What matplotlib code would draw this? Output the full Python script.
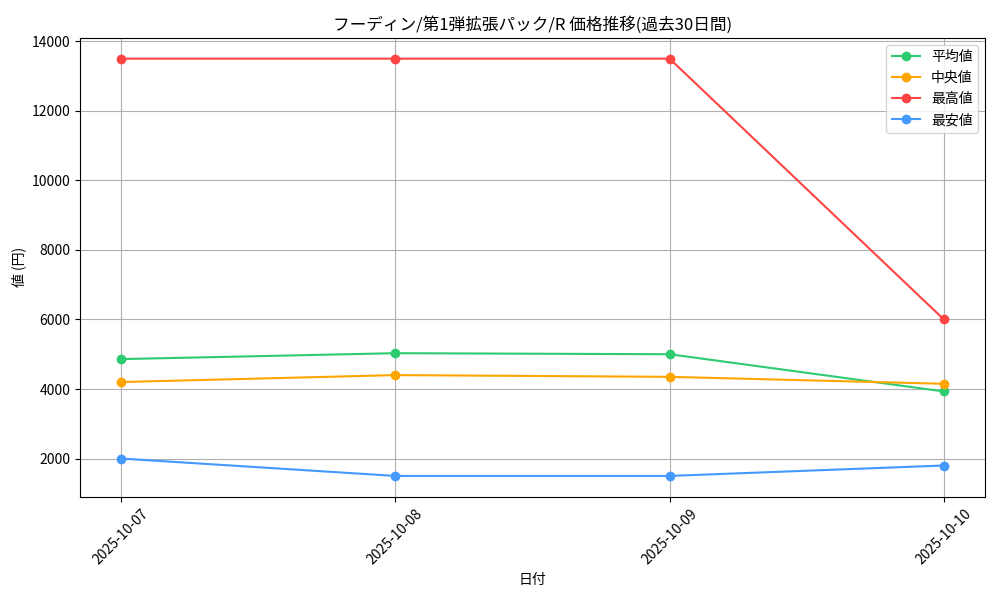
import matplotlib
matplotlib.use('Agg')
import matplotlib.pyplot as plt
import pandas as pd

plt.rcParams['font.family'] = ['Noto Sans CJK JP', 'DejaVu Sans']

dates = ['2025-10-07', '2025-10-08', '2025-10-09', '2025-10-10']
avg_prices = [4860, 5030, 5000, 3930]
median_prices = [4200, 4400, 4350, 4150]
max_prices = [13500, 13500, 13500, 6000]
min_prices = [2000, 1500, 1500, 1800]

x = pd.to_datetime(dates)

fig, ax = plt.subplots(figsize=(10, 6), dpi=100)

ax.plot(x, avg_prices, marker='o', color='#2ecc71', label='平均値')
ax.plot(x, median_prices, marker='o', color='#ffa500', label='中央値')
ax.plot(x, max_prices, marker='o', color='#ff4444', label='最高値')
ax.plot(x, min_prices, marker='o', color='#4499ff', label='最安値')

ax.set_title('フーディン/第1弾拡張パック/R 価格推移(過去30日間)')
ax.set_xlabel('日付')
ax.set_ylabel('値 (円)')
ax.set_xticks(x)
ax.set_xticklabels(dates, rotation=45)
ax.grid(True)
ax.legend(loc='upper right')

# match the reference axes box
plt.subplots_adjust(left=0.08, right=0.985, top=0.937, bottom=0.172)
plt.savefig('out.png')
